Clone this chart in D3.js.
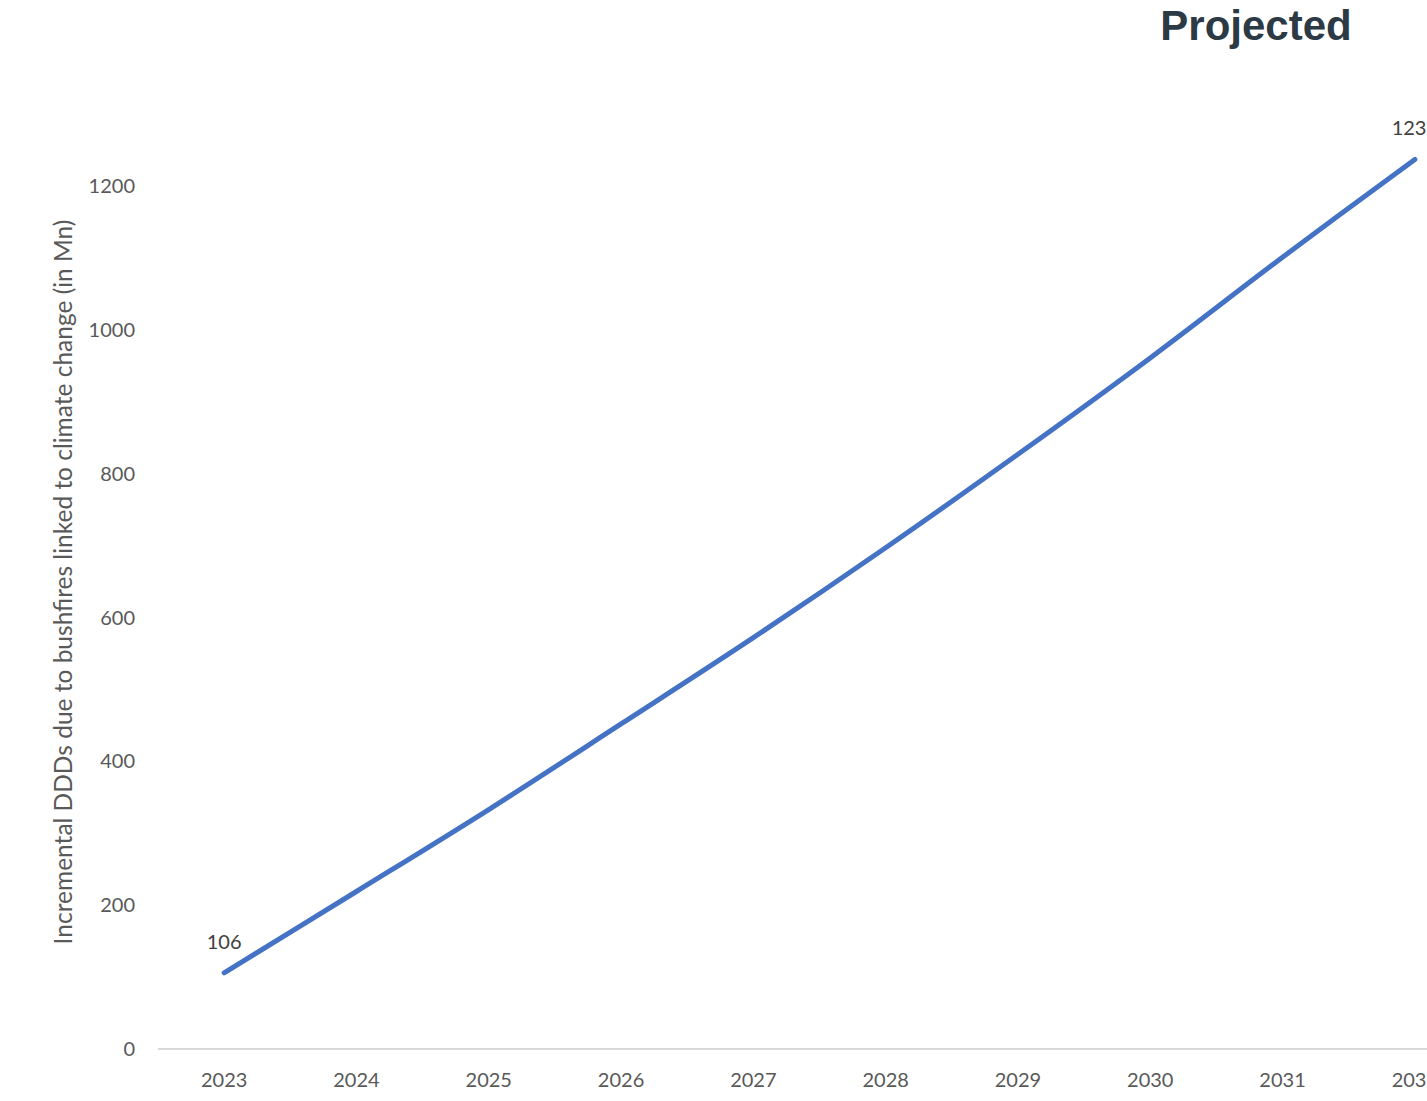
<!DOCTYPE html>
<html>
<head>
<meta charset="utf-8">
<script src="https://cdn.jsdelivr.net/npm/d3@7"></script>
<style>
  body { margin: 0; background: #fff; }
  svg { display: block; }
</style>
</head>
<body>
<div id="chart"></div>
<script>
var years = ["2023", "2024", "2025", "2026", "2027", "2028", "2029", "2030", "2031", "2032"];
var ddds = [106, 219, 333, 452, 572, 697, 827, 961, 1101, 1237];
var yTicks = [0, 200, 400, 600, 800, 1000, 1200];
var labelIdx = [0, 9];

var svgWidth = 1427;
var svgHeight = 1101;

var svg = d3.select("#chart")
  .append("svg")
  .attr("width", svgWidth)
  .attr("height", svgHeight)
  .style("font-family", "Lato, 'Open Sans', sans-serif");

// category axis runs past the right edge, like the source
var x = d3.scaleBand()
  .domain(years)
  .range([158, 1481]);

var y = d3.scaleLinear()
  .domain([0, 1200])
  .range([1049, 186]);

var cx = d => x(d) + x.bandwidth() / 2;

// x axis line
svg.append("line")
  .attr("x1", x.range()[0])
  .attr("x2", x.range()[1])
  .attr("y1", y(0))
  .attr("y2", y(0))
  .attr("stroke", "#d9d9d9")
  .attr("stroke-width", 2);

// x labels
svg.selectAll(".xlab")
  .data(years)
  .enter()
  .append("text")
  .attr("class", "xlab")
  .attr("x", d => cx(d))
  .attr("y", 1087)
  .attr("text-anchor", "middle")
  .attr("fill", "#595959")
  .style("font-size", "20px")
  .text(d => d);

// y labels
svg.selectAll(".ylab")
  .data(yTicks)
  .enter()
  .append("text")
  .attr("class", "ylab")
  .attr("x", 135)
  .attr("y", d => y(d) + 7)
  .attr("text-anchor", "end")
  .attr("fill", "#595959")
  .style("font-size", "20px")
  .text(d => d);

// y axis title
svg.append("text")
  .attr("transform", "translate(72, 582) rotate(-90)")
  .attr("text-anchor", "middle")
  .attr("fill", "#595959")
  .style("font-size", "24.5px")
  .text("Incremental DDDs due to bushfires linked to climate change (in Mn)");

// the line
var pts = years.map((d, i) => [cx(d), y(ddds[i])]);
svg.append("path")
  .attr("d", d3.line().curve(d3.curveCatmullRom.alpha(0.5))(pts))
  .attr("fill", "none")
  .attr("stroke", "#4472c4")
  .attr("stroke-width", 5)
  .attr("stroke-linecap", "round");

// data labels
svg.selectAll(".dlab")
  .data(labelIdx)
  .enter()
  .append("text")
  .attr("class", "dlab")
  .attr("x", i => cx(years[i]))
  .attr("y", i => y(ddds[i]) - 24)
  .attr("text-anchor", "middle")
  .attr("fill", "#404040")
  .style("font-size", "20px")
  .text(i => ddds[i]);

// title
svg.append("text")
  .attr("x", 1256)
  .attr("y", 40)
  .attr("text-anchor", "middle")
  .attr("fill", "#2b3a45")
  .style("font-family", "'Liberation Sans', Arial, sans-serif")
  .style("font-weight", "bold")
  .style("font-size", "42px")
  .text("Projected");
</script>
</body>
</html>
